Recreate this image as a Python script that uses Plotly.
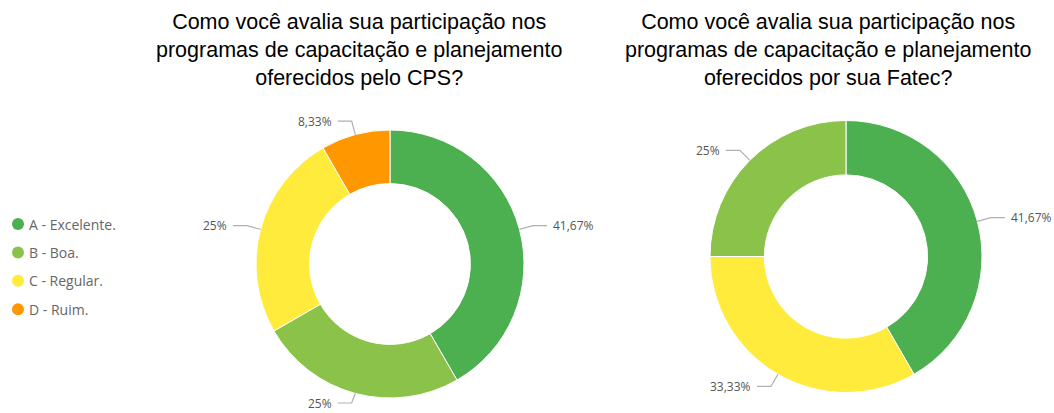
import math
import plotly.graph_objects as go

# Figure size in pixels
W, H = 1054, 413

# Rating categories and their colours
categories = ["A - Excelente.", "B - Boa.", "C - Regular.", "D - Ruim."]
colors = ["#4CAF50", "#8BC34A", "#FFEB3B", "#FF9800"]

# Share of answers (%) per category
cps_pct = [41.67, 25, 25, 8.33]      # programmes offered by the CPS
fatec_pct = [41.67, 25, 33.33]       # programmes offered by the Fatec (no "D")

titles = [
    "Como você avalia sua participação nos<br>programas de capacitação e planejamento<br>oferecidos pelo CPS?",
    "Como você avalia sua participação nos<br>programas de capacitação e planejamento<br>oferecidos por sua Fatec?",
]

# Layout of each donut in pixels: centre x, centre y, outer radius, title centre x
donuts = [
    dict(cx=390, cy=264, r=134, tx=358.5, values=cps_pct),
    dict(cx=846, cy=256.5, r=136, tx=828, values=fatec_pct),
]
HOLE = 0.6
LABEL_MAX_Y = H - 10   # keep the lowest label fully inside the page


def px(x):
    return x / W


def py(y):
    return 1 - y / H


def pct_text(v):
    s = f"{v:.2f}".rstrip("0").rstrip(".")
    return s.replace(".", ",") + "%"


fig = go.Figure()
shapes = []
annotations = []

for d, title in zip(donuts, titles):
    vals = d["values"]
    # largest slices first, ties keep category order
    order = sorted(range(len(vals)), key=lambda i: -vals[i])
    labels = [categories[i] for i in order]
    v = [vals[i] for i in order]
    c = [colors[i] for i in order]
    cx, cy, r = d["cx"], d["cy"], d["r"]

    fig.add_trace(go.Pie(
        labels=labels, values=v, sort=False, direction="clockwise", rotation=0,
        hole=HOLE, textinfo="none", hoverinfo="label+percent", showlegend=False,
        marker=dict(colors=c, line=dict(color="white", width=1)),
        domain=dict(x=[px(cx - r), px(cx + r)], y=[py(cy + r), py(cy - r)]),
    ))

    # outside labels with leader lines
    total = sum(v)
    acc = 0.0
    for val in v:
        mid = (acc + val / 2) / total * 2 * math.pi
        acc += val
        sx, sy = math.sin(mid), -math.cos(mid)
        p0 = (cx + r * sx, cy + r * sy)
        p1 = (cx + (r + 14) * sx, min(cy + (r + 14) * sy, LABEL_MAX_Y))
        side = 1 if sx >= 0 else -1
        p2 = (p1[0] + side * 14, p1[1])
        shapes.append(dict(
            type="path", xref="paper", yref="paper",
            path=f"M {px(p0[0])} {py(p0[1])} L {px(p1[0])} {py(p1[1])} L {px(p2[0])} {py(p2[1])}",
            line=dict(color="#b0b0b0", width=1.2),
        ))
        annotations.append(dict(
            x=px(p2[0] + side * 4), y=py(p2[1]), xref="paper", yref="paper",
            text=pct_text(val), showarrow=False,
            xanchor="left" if side > 0 else "right", yanchor="middle",
            font=dict(family="Open Sans, sans-serif", size=12, color="#555555"),
        ))

    annotations.append(dict(
        x=px(d["tx"]), y=py(50), xref="paper", yref="paper", text=title,
        showarrow=False, xanchor="center", yanchor="middle", align="center",
        font=dict(family="Liberation Sans, Arial, sans-serif", size=21.5, color="#000000"),
    ))

# Legend on the left: coloured dot + category name
for i, (cat, col) in enumerate(zip(categories, colors)):
    yc = 224 + i * 28.4
    shapes.append(dict(
        type="circle", xref="paper", yref="paper",
        x0=px(12), x1=px(24), y0=py(yc + 6), y1=py(yc - 6),
        fillcolor=col, line=dict(width=0),
    ))
    annotations.append(dict(
        x=px(27), y=py(yc), xref="paper", yref="paper", text=cat,
        showarrow=False, xanchor="left", yanchor="middle",
        font=dict(family="Open Sans, sans-serif", size=14, color="#666666"),
    ))

fig.update_layout(
    width=W, height=H,
    margin=dict(l=0, r=0, t=0, b=0),
    paper_bgcolor="white", plot_bgcolor="white",
    shapes=shapes, annotations=annotations,
)

fig.write_html("out.html")
